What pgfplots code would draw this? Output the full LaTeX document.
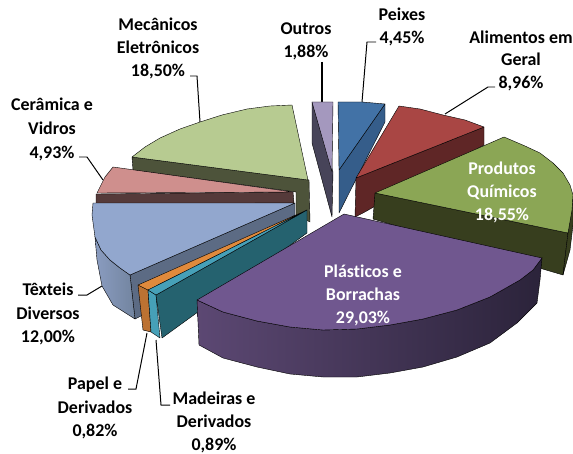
\documentclass[border=0pt]{standalone}
\usepackage{pgfplots}
\pgfplotsset{compat=1.18}
\usepackage{fontspec}
\setmainfont[Ligatures=NoCommon]{Carlito}
\definecolor{cOutT}{HTML}{A498BE}\definecolor{cOutS}{HTML}{474459}
\definecolor{cPeiT}{HTML}{4272A6}\definecolor{cPeiS}{HTML}{355D8A}
\definecolor{cAliT}{HTML}{A94644}\definecolor{cAliS}{HTML}{5F2626}
\definecolor{cProT}{HTML}{8BA655}\definecolor{cProS}{HTML}{373E1E}
\definecolor{cMecT}{HTML}{B7CB91}\definecolor{cMecS}{HTML}{4D533A}
\definecolor{cCerT}{HTML}{CF8F8D}\definecolor{cCerS}{HTML}{553A3A}
\definecolor{cTexT}{HTML}{92A7CE}\definecolor{cTexS}{HTML}{5C6B84}
\definecolor{cTexL}{HTML}{8A9CC0}\definecolor{cTexR}{HTML}{72849F}
\definecolor{cPapT}{HTML}{E08A3C}\definecolor{cPapS}{HTML}{BC7232}
\definecolor{cMadT}{HTML}{46A0B8}\definecolor{cMadS}{HTML}{25626F}
\definecolor{cPlaT}{HTML}{70578F}\definecolor{cPlaL}{HTML}{5C4873}\definecolor{cPlaR}{HTML}{2B233A}
\pgfplotsset{face/.style={draw=black,line width=0.4pt,line join=round,fill=#1,mark=none},
 lead/.style={draw=black,line width=1pt,mark=none}}
\tikzset{L/.style={font=\fontsize{18}{21}\selectfont\bfseries,align=center,text=black,inner sep=0pt,anchor=base,yshift=-6bp}}
\begin{document}
\begin{tikzpicture}
\begin{axis}[at={(0,0)},anchor=south west,scale only axis,width=573bp,height=454bp,xmin=0,xmax=573,ymin=0,ymax=454,y dir=reverse,
 axis lines=none,clip=false]
% leaders
\addplot[lead,line width=1.5pt] coordinates {(322,62)(322,102)};
\addplot[lead] coordinates {(376,42)(367,42)(362,102)};
\addplot[lead] coordinates {(495,87)(488,87)(445,114)};
\addplot[lead] coordinates {(190,76)(197,76)(200,122)};
\addplot[lead] coordinates {(79,157)(87,157)(103,180)};
\addplot[lead] coordinates {(78,295)(87,295)(102,286)};
\addplot[lead] coordinates {(128,389)(136,389)(147,333)};
\addplot[lead] coordinates {(170,405)(161,405)(156,340)};
% Outros
\addplot[face=cOutS] coordinates {(312,102)(312,143)(332,217)(333,172)} --cycle;
\addplot[face=cOutT] coordinates {(312,102)(333,102)(332,172)} --cycle;
% Peixes
\addplot[face=cPeiS] coordinates {(385,104)(385,122)(339,213)(339,170)} --cycle;
\addplot[face=cPeiT] coordinates {(338,102)(362,102)(385,104)(339,170)} --cycle;
% Alimentos
\addplot[face=cAliS] coordinates {(484,127)(484,145)(363,213)(355,217)(356,178)} --cycle;
\addplot[face=cAliT] coordinates {(356,178)(399,106)(420,109)(443,115)(465,120)(484,127)} --cycle;
% Produtos
\addplot[face=cProS] coordinates {(375,193)(373,219)(563,275)(568,233)} --cycle;
\addplot[face=cProS] coordinates {(573,195)(573,225)(570,250)(563,275)(568,233)} --cycle;
\addplot[face=cProT] coordinates {(375,193)(504,137)(525,146)(540,153)(553,163)(563,173)(570,185)(573,195)(572,210)(568,233)} --cycle;
% Mecanicos
\addplot[face=cMecS] coordinates {(132,157)(133,170)(296,192)(296,215)(310,222)(309,180)} --cycle;
\addplot[face=cMecT] coordinates {(308,180)(292,105)(270,106)(247,109)(222,115)(200,122)(180,129)(160,138)(145,147)(132,157)} --cycle;
% Ceramica
\addplot[face=cCerS] coordinates {(96,194)(96,204)(294,203)(293,192)} --cycle;
\addplot[face=cCerT] coordinates {(293,192)(113,167)(105,177)(97,193)} --cycle;
% Texteis
\addplot[face=cTexS] coordinates {(130,275)(135,319)(143,315)(295,215)(295,203)} --cycle;
\addplot[draw=black,line width=0.4pt,left color=cTexL,right color=cTexR,mark=none] coordinates {(95,237)(97,260)(102,286)(113,305)(135,319)(130,275)(120,268)(110,260)(101,250)} --cycle;
\addplot[face=cTexT] coordinates {(295,203)(93,203)(92,215)(95,237)(101,250)(110,260)(120,268)(130,275)} --cycle;
% Papel
\addplot[face=cPapS] coordinates {(138,285)(143,330)(151,332)(148,290)} --cycle;
\addplot[face=cPapT] coordinates {(138,285)(148,290)(307,210)} --cycle;
% Madeiras
\addplot[face=cMadT] coordinates {(148,290)(151,332)(160,338)(156,295)} --cycle;
\addplot[face=cMadS] coordinates {(156,295)(162,338)(307,233)(307,210)} --cycle;
\addplot[face=cMadT] coordinates {(148,290)(156,295)(307,210)} --cycle;
% Plasticos
\addplot[draw=black,line width=0.4pt,left color=cPlaL,right color=cPlaR,mark=none] coordinates {(197,300)(199,345)(223,358)(257,367)(290,374)(323,377)(357,377)(390,373)(423,367)(457,357)(490,343)(517,323)(537,303)(540,280)(542,258)(533,270)(520,280)(490,297)(457,310)(423,319)(390,325)(357,329)(323,330)(290,327)(257,321)(223,312)} --cycle;
\addplot[face=cPlaT] coordinates {(344,214)(542,258)(533,270)(520,280)(490,297)(457,310)(423,319)(390,325)(357,329)(323,330)(290,327)(257,321)(223,312)(197,300)} --cycle;
% labels
\node[L] at (axis cs:402,15) {Peixes}; \node[L] at (axis cs:402,38) {4,45\%};
\node[L] at (axis cs:306,29) {Outros}; \node[L] at (axis cs:306,52) {1,88\%};
\node[L] at (axis cs:521,38) {Alimentos em}; \node[L] at (axis cs:521,60) {Geral}; \node[L] at (axis cs:521,83) {8,96\%};
\node[L] at (axis cs:158,25) {Mecânicos}; \node[L] at (axis cs:158,48) {Eletrônicos}; \node[L] at (axis cs:158,71) {18,50\%};
\node[L] at (axis cs:52,105) {Cerâmica e}; \node[L] at (axis cs:52,128) {Vidros}; \node[L] at (axis cs:52,152) {4,93\%};
\node[L] at (axis cs:48,289) {Têxteis}; \node[L] at (axis cs:48,313) {Diversos}; \node[L] at (axis cs:48,336) {12,00\%};
\node[L] at (axis cs:95,383) {Papel e}; \node[L] at (axis cs:95,407) {Derivados}; \node[L] at (axis cs:95,430) {0,82\%};
\node[L] at (axis cs:214,398) {Madeiras e}; \node[L] at (axis cs:214,421) {Derivados}; \node[L] at (axis cs:214,444) {0,89\%};
\node[L,text=white] at (axis cs:502,168) {Produtos}; \node[L,text=white] at (axis cs:502,191) {Químicos}; \node[L,text=white] at (axis cs:502,214) {18,55\%};
\node[L,text=white] at (axis cs:363,271) {Plásticos e}; \node[L,text=white] at (axis cs:363,294) {Borrachas}; \node[L,text=white] at (axis cs:363,317) {29,03\%};
\end{axis}
\pgfresetboundingbox
\path[use as bounding box] (0,0) rectangle (573bp,454bp);
\end{tikzpicture}
\end{document}
